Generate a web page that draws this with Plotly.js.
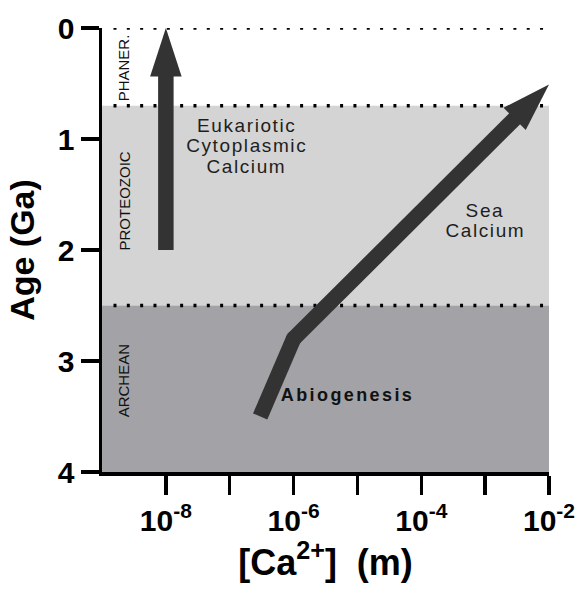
<!DOCTYPE html>
<html><head><meta charset="utf-8">
<script src="https://cdn.plot.ly/plotly-3.0.1.min.js"></script>
<style>
html,body{margin:0;padding:0;background:#fff;}
g.annotation[data-index="0"] text, g.annotation[data-index="1"] text, g.annotation[data-index="2"] text,
g.annotation[data-index="3"] text, g.annotation[data-index="4"] text {letter-spacing:1.6px;}
g.annotation[data-index="5"] text {letter-spacing:2.4px;}
</style>
</head><body>
<div id="chart" style="width:579px;height:590px;"></div>
<script>
// ---- data ----
const xTickVals = [1e-8, 1e-6, 1e-4, 1e-2];
const xTickText = ['10<sup>-8</sup>', '10<sup>-6</sup>', '10<sup>-4</sup>', '10<sup>-2</sup>'];
const xMinorTickVals = [1e-7, 1e-5, 1e-3];
const yTickVals = [0, 1, 2, 3, 4];
const eraNames = ['PHANER.', 'PROTEOZOIC', 'ARCHEAN'];
const eraStart = [0, 0.7, 2.5];
const eraEnd = [0.7, 2.5, 4];
const eraLabelAge = [0.36, 1.56, 3.18];
const boundaryAges = [0, 0.7, 2.5];
const eukX = [1e-8, 1e-8];
const eukAge = [2.0, 0.0];
const seaX = [3e-7, 1e-6, 1e-2];
const seaAge = [3.5, 2.8, 0.51];
const eukLabel = ['Eukariotic', 'Cytoplasmic', 'Calcium'];
const seaLabel = ['Sea', 'Calcium'];
const abioLabel = 'Abiogenesis';

// ---- styles ----
const FONT = 'Liberation Sans, Arial, Helvetica, sans-serif';
const ARROW = '#333333';
const SHAFT = 15.5;
const HEAD = 51;
const eraFill = ['rgba(0,0,0,0)', '#d4d4d4', '#a3a2a6'];

const traces = [];
boundaryAges.forEach(a => {
  traces.push({
    x: [Math.pow(10, -8.82), 1e-2], y: [a, a], mode: 'lines', type: 'scatter',
    line: {color: '#000', width: 3.5, dash: '3px,10.33px'},
    cliponaxis: false, hoverinfo: 'skip', showlegend: false
  });
});
// plain shaft segment ending in a joint marker
function shaftTrace(xs, ys) {
  return {
    x: xs, y: ys, type: 'scatter', mode: 'lines+markers', cliponaxis: true,
    line: {color: ARROW, width: SHAFT, backoff: 0},
    marker: {symbol: 'circle', color: ARROW, opacity: 1,
             size: xs.map((_, i) => i === xs.length - 1 ? SHAFT : 0), line: {width: 0}},
    hoverinfo: 'skip', showlegend: false
  };
}
// final segment with arrow head at its end
function headTrace(xs, ys) {
  return {
    x: xs, y: ys, type: 'scatter', mode: 'lines+markers', cliponaxis: true,
    line: {color: ARROW, width: SHAFT, backoff: 32},
    marker: {symbol: 'arrow', angleref: 'previous', color: ARROW, opacity: 1,
             size: xs.map((_, i) => i === xs.length - 1 ? HEAD : 0), line: {width: 0}},
    hoverinfo: 'skip', showlegend: false
  };
}
traces.push(headTrace(eukX, eukAge));
traces.push(shaftTrace(seaX.slice(0, 2), seaAge.slice(0, 2)));
traces.push(headTrace(seaX.slice(1), seaAge.slice(1)));

const shapes = eraStart.map((s, i) => ({
  type: 'rect', xref: 'paper', x0: 0, x1: 1, yref: 'y', y0: s, y1: eraEnd[i],
  fillcolor: eraFill[i], line: {width: 0}, layer: 'below'
}));

const annotations = [];
eukLabel.forEach((t, i) => annotations.push({
  text: t, x: -6.74, y: 1.06, xref: 'x', yref: 'y', showarrow: false,
  yshift: 20.5 - 20.5 * i, font: {family: FONT, size: 19, color: '#1e1e1e'}
}));
seaLabel.forEach((t, i) => annotations.push({
  text: t, x: -3.0, y: 1.737, xref: 'x', yref: 'y', showarrow: false,
  yshift: 10 - 20 * i, font: {family: FONT, size: 19, color: '#1e1e1e'}
}));
annotations.push({
  text: abioLabel, x: -5.16, y: 3.31, xref: 'x', yref: 'y', showarrow: false,
  font: {family: FONT, size: 18, color: '#111', weight: 'bold'}
});
eraNames.forEach((t, i) => annotations.push({
  text: t, x: -8.65, y: eraLabelAge[i], xref: 'x', yref: 'y', showarrow: false,
  textangle: -90, font: {family: FONT, size: 15, color: '#111'}
}));

const layout = {
  width: 579, height: 590,
  margin: {l: 102, r: 30, t: 28, b: 118},
  paper_bgcolor: '#fff', plot_bgcolor: '#fff',
  showlegend: false,
  xaxis: {
    type: 'log', range: [-9, -2], showgrid: false, zeroline: false,
    showline: true, linecolor: '#000', linewidth: 3.5,
    ticks: 'outside', ticklen: 19, tickwidth: 3.5, tickcolor: '#000',
    tickvals: xTickVals, ticktext: xTickText,
    minor: {tickvals: xMinorTickVals, ticks: 'outside', ticklen: 19, tickwidth: 3.5,
            tickcolor: '#000', showgrid: false},
    tickfont: {family: FONT, size: 30, color: '#000', weight: 'bold'},
    title: {text: '[Ca<sup>2+</sup>]\u00a0 (m)', standoff: 12,
            font: {family: FONT, size: 36, color: '#000', weight: 'bold'}}
  },
  yaxis: {
    range: [4, 0], showgrid: false, zeroline: false,
    showline: true, linecolor: '#000', linewidth: 3.5,
    ticks: 'outside', ticklen: 18, tickwidth: 3.5, tickcolor: '#000',
    tickvals: yTickVals,
    tickfont: {family: FONT, size: 30, color: '#000', weight: 'bold'},
    title: {text: 'Age (Ga)', standoff: 14,
            font: {family: FONT, size: 34, color: '#000', weight: 'bold'}}
  },
  shapes: shapes,
  annotations: annotations
};

Plotly.newPlot('chart', traces, layout, {staticPlot: true, displayModeBar: false});
</script>
</body></html>
